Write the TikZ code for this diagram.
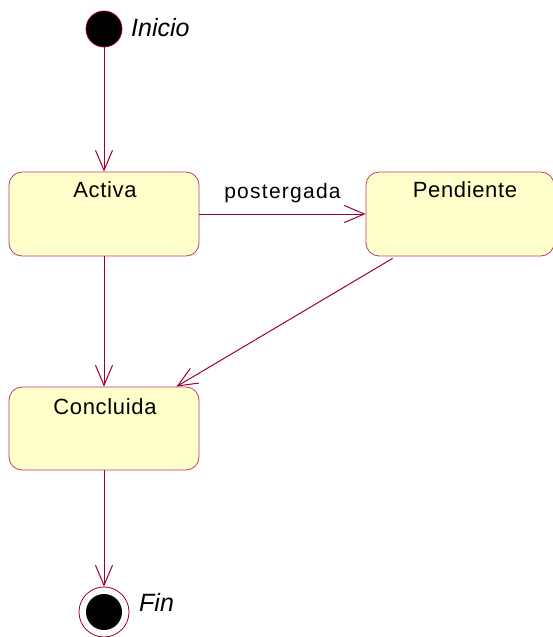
\documentclass[tikz,border=0pt]{standalone}
\usepackage{fontspec}
\setmainfont{Liberation Sans}
\usetikzlibrary{arrows.meta,calc}
\definecolor{umlline}{RGB}{153,0,51}
\definecolor{umlbox}{RGB}{190,60,100}
\definecolor{umlfill}{RGB}{255,255,204}
\tikzset{
  statebox/.style={draw=umlbox, fill=umlfill, rounded corners=13pt, line width=0.8pt, inner sep=0pt},
  statetext/.style={font=\fontsize{22}{24}\selectfont\addfontfeatures{LetterSpace=3}, inner sep=0pt, anchor=center},
  pseudo/.style={font=\fontsize{25}{27}\selectfont\itshape, inner sep=0pt, anchor=west},
  trans/.style={draw=umlline, line width=1pt, -{Straight Barb[length=20pt,width=17pt,line width=1pt]}},
}
\begin{document}
\begin{tikzpicture}[x=1pt,y=-1pt]
\useasboundingbox (0,0) rectangle (553,637);
% initial state
\node[circle, draw=umlline, fill=black, minimum size=36pt, inner sep=0pt, line width=0.8pt] (init) at (104,29) {};
\node[pseudo] (initT) at (131,28) {Inicio};
% states
\node[statebox, minimum width=190pt, minimum height=84pt] (activa) at (104,214) {};
\node[statetext] (activaT) at (105,190) {Activa};
\node[statebox, minimum width=188pt, minimum height=84pt] (pendiente) at (460,214) {};
\node[statetext] (pendienteT) at (465,190) {Pendiente};
\node[statebox, minimum width=190pt, minimum height=83pt] (concluida) at (104,428.5) {};
\node[statetext] (concluidaT) at (105,407) {Concluida};
% final state
\node[circle, draw=umlline, fill=white, minimum size=50pt, inner sep=0pt, line width=0.8pt] (fin) at (104,612) {};
\node[circle, fill=black, minimum size=36pt, inner sep=0pt] (finIn) at (104,612) {};
\node[pseudo] (finT) at (139,602) {Fin};
% transitions
\draw[trans] (init.south) -- (activa.north);
\draw[trans] (activa.east) -- node[above=9pt, font=\fontsize{21}{24}\selectfont\addfontfeatures{LetterSpace=6}, inner sep=0pt, yshift=2pt] (postT) {postergada} (pendiente.west);
\draw[trans] (activa.south) -- (concluida.north);
\draw[trans] ($(pendiente.south west)+(27,2)$) -- ($(concluida.north east)+(-23,0)$);
\draw[trans] (concluida.south) -- (fin.north);
\end{tikzpicture}
\end{document}
